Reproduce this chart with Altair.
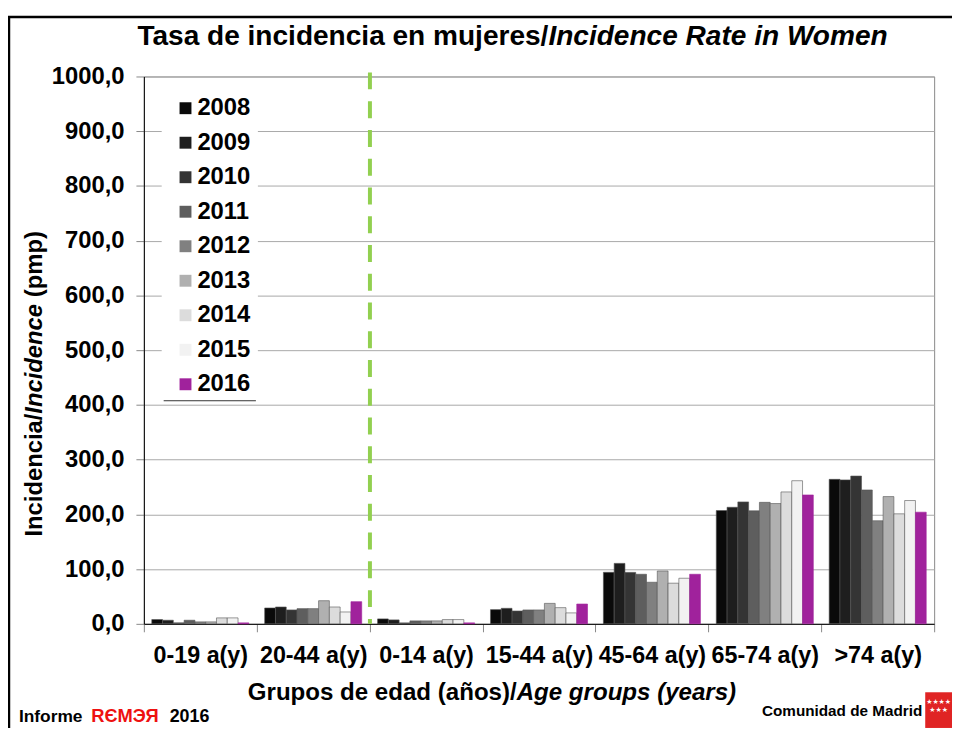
import altair as alt
import pandas as pd

FONT = "Liberation Sans"

groups = ["0-19 a(y)", "20-44 a(y)", "0-14 a(y)", "15-44 a(y)", "45-64 a(y)", "65-74 a(y)", ">74 a(y)"]
years = ["2008", "2009", "2010", "2011", "2012", "2013", "2014", "2015", "2016"]

v2008 = [7.9, 29.0, 9.0, 26.0, 94.2, 207.0, 264.0]
v2009 = [6.6, 30.8, 7.2, 28.4, 110.5, 213.0, 263.0]
v2010 = [1.8, 25.4, 1.8, 23.5, 94.0, 222.8, 270.0]
v2011 = [6.6, 27.8, 5.4, 25.4, 90.6, 206.5, 244.6]
v2012 = [3.6, 27.8, 5.4, 25.4, 76.0, 222.0, 188.4]
v2013 = [3.6, 42.3, 5.4, 37.4, 96.6, 219.8, 232.5]
v2014 = [10.9, 30.8, 7.8, 29.6, 74.3, 241.0, 201.0]
v2015 = [10.9, 21.7, 7.8, 20.0, 83.3, 261.5, 225.3]
v2016 = [1.8, 40.5, 1.8, 36.2, 90.6, 235.5, 204.0]

series = [v2008, v2009, v2010, v2011, v2012, v2013, v2014, v2015, v2016]
colors = ["#0a0a0a", "#1e1e1e", "#343434", "#5e5e5e", "#808080",
          "#b0b0b0", "#dcdcdc", "#f2f2f2", "#a0229c"]

rows = []
for yr, vals in zip(years, series):
    for g, v in zip(groups, vals):
        rows.append({"group": g, "year": yr, "value": v})
df = pd.DataFrame(rows)

W, H = 797, 552
FS = 24

bars = alt.Chart(df).mark_bar(strokeWidth=0.6).encode(
    x=alt.X("group:N", sort=groups, title=None,
            scale=alt.Scale(paddingInner=0, paddingOuter=0),
            axis=alt.Axis(labelAngle=0, labelFont=FONT, labelFontSize=23.5,
                          labelFontWeight="bold", labelColor="black",
                          labelOverlap=False, labelLimit=300, labelPadding=12,
                          tickBand="extent", tickSize=8, tickColor="#888",
                          domainColor="black", grid=False)),
    xOffset=alt.XOffset("year:N", sort=years,
                        scale=alt.Scale(paddingInner=0, paddingOuter=0.735)),
    y=alt.Y("value:Q", title=None,
            scale=alt.Scale(domain=[0, 1000], nice=False),
            axis=alt.Axis(values=list(range(0, 1001, 100)),
                          labelExpr="replace(format(datum.value, '.1f'), '.', ',')",
                          labelFont=FONT, labelFontSize=FS, labelFontWeight="bold",
                          labelColor="black", labelPadding=12, tickSize=8,
                          tickColor="#888", domainColor="black",
                          grid=True, gridColor="#a8a8a8", gridWidth=1)),
    color=alt.Color("year:N", sort=years,
                    scale=alt.Scale(domain=years, range=colors),
                    legend=alt.Legend(title=None, orient="none", legendX=30, legendY=20,
                                      direction="vertical", symbolType="square",
                                      symbolSize=144, symbolStrokeWidth=0,
                                      symbolOpacity=1, labelFont=FONT,
                                      labelFontSize=FS, labelFontWeight="bold",
                                      labelColor="black", rowPadding=10.8,
                                      labelOffset=0, padding=0)),
    stroke=alt.condition(alt.datum.year == "2016", alt.value("#a0229c"), alt.value("#555")),
)

one = alt.Data(values=[{"a": 1}])


def txt(s, x, y, size, italic=False, align="left", angle=0, color="black",
        font=FONT, weight="bold", baseline="alphabetic"):
    return alt.Chart(one).mark_text(
        text=s, font=font, fontSize=size, fontWeight=weight,
        fontStyle="italic" if italic else "normal", align=align,
        baseline=baseline, angle=angle, color=color,
    ).encode(x=alt.value(x), y=alt.value(y))


legend_bg = alt.Chart(one).mark_rect(color="white").encode(
    x=alt.value(18), x2=alt.value(115), y=alt.value(14), y2=alt.value(327))
legend_line = alt.Chart(one).mark_rule(color="#333", strokeWidth=1).encode(
    x=alt.value(20), x2=alt.value(113), y=alt.value(327))

green = alt.Chart(one).mark_rule(color="#92d050", strokeWidth=4,
                                 strokeDash=[17, 12]).encode(
    x=alt.value(228), y=alt.value(-4), y2=alt.value(H))

frame_top = alt.Chart(one).mark_rule(color="black", strokeWidth=2.5).encode(
    x=alt.value(-137), x2=alt.value(815), y=alt.value(-60))
frame_left = alt.Chart(one).mark_rule(color="black", strokeWidth=2.5).encode(
    x=alt.value(-136), y=alt.value(-60), y2=alt.value(657))

logo = alt.Chart(one).mark_rect(color="#e02424").encode(
    x=alt.value(788), x2=alt.value(815), y=alt.value(621), y2=alt.value(657))

texts = [
    txt("Tasa de incidencia en mujeres/", 408, -32, 28.3, align="right"),
    txt("Incidence Rate in Women", 408, -32, 28.3, italic=True),
    txt("Grupos de edad (años)/", 376, 629, 24.3, align="right"),
    txt("Age groups (years)", 376, 629, 24.3, italic=True),
    txt("Incidencia/", -103, 464, 24, angle=270),
    txt("Incidence", -103, 340, 24, italic=True, angle=270),
    txt("(pmp)", -103, 222.6, 24, angle=270),
    txt("Informe", -126, 651, 17.5),
    txt("RЄMЭЯ", -53, 651, 18.5, color="#ee1111"),
    txt("2016", 26, 651, 18),
    txt("Comunidad de Madrid", 785, 645, 15.4, align="right"),
    txt("★★★★", 801.5, 633, 7, color="white", font="DejaVu Sans", align="center", weight="normal"),
    txt("★★★", 801.5, 641, 7, color="white", font="DejaVu Sans", align="center", weight="normal"),
]

chart = alt.layer(
    bars, legend_bg, legend_line, green, frame_top, frame_left, logo, *texts
).properties(
    width=W, height=H,
    padding={"left": 137, "top": 66, "right": 18, "bottom": 105},
    autosize=alt.AutoSizeParams(type="none"),
).configure_view(stroke="#888")

chart.save("out.html", embed_options={"renderer": "svg", "actions": False})
